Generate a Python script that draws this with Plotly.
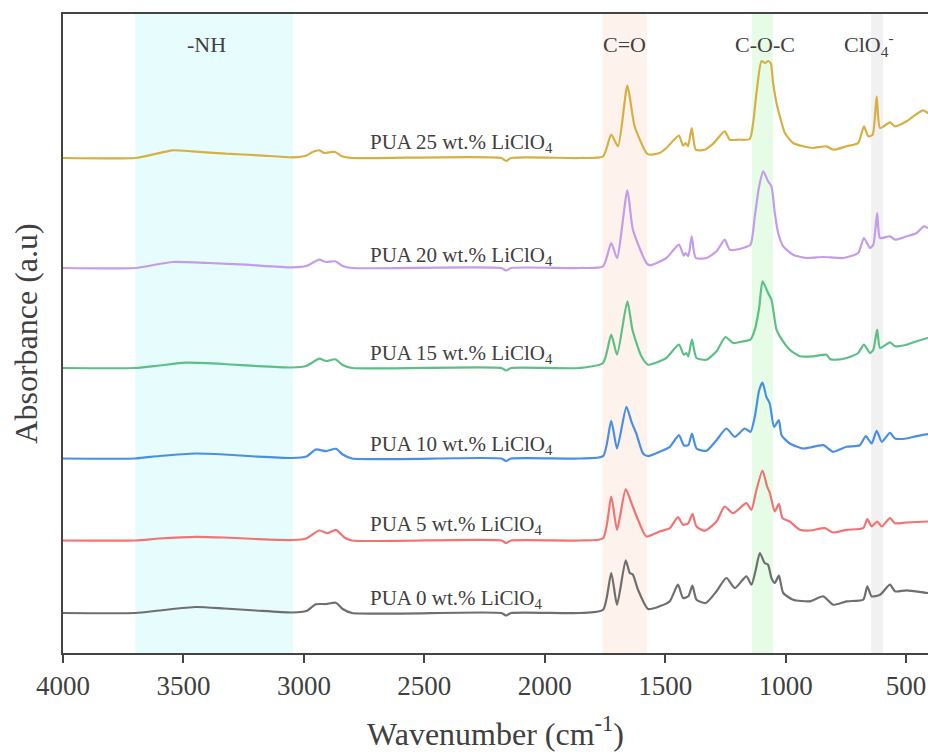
import plotly.graph_objects as go

# FTIR spectra of PUA films with increasing LiClO4 loading (stacked, arbitrary units)
labels = ["PUA 0 wt.% LiClO<sub>4</sub>", "PUA 5 wt.% LiClO<sub>4</sub>",
          "PUA 10 wt.% LiClO<sub>4</sub>", "PUA 15 wt.% LiClO<sub>4</sub>",
          "PUA 20 wt.% LiClO<sub>4</sub>", "PUA 25 wt.% LiClO<sub>4</sub>"]
colors = ["#6f6f6f", "#f07474", "#4a8fe3", "#5dbf86", "#c49ce9", "#d6b043"]
offsets = [0.40, 1.125, 1.945, 2.85, 3.85, 4.95]
label_y = [0.54, 1.28, 2.08, 2.99, 3.97, 5.10]

# wavenumbers (cm-1) and relative absorbance for each spectrum
wn_0 = [4000, 3700, 3600, 3448, 3330, 3200, 3050, 2990, 2950, 2908, 2867, 2839, 2800,
        2180, 2160, 2140, 1855, 1758, 1724, 1700, 1664, 1647, 1634, 1613, 1571, 1523,
        1481, 1447, 1426, 1404, 1387, 1370, 1332, 1287, 1246, 1211, 1163, 1142, 1124,
        1107, 1087, 1073, 1059, 1045, 1028, 1010, 969, 900, 844, 803, 747, 678, 661,
        643, 608, 567, 546, 498, 409, 400]
ab_0 = [0, 0, 0.025, 0.06, 0.045, 0.025, 0.005, 0.02, 0.087, 0.09, 0.103, 0.04, 0,
        0, -0.025, 0, 0, 0.033, 0.40, 0.083, 0.527, 0.40, 0.383, 0.233, 0.04, 0.067,
        0.117, 0.283, 0.15, 0.167, 0.273, 0.133, 0.10, 0.217, 0.35, 0.25, 0.367, 0.283, 0.433,
        0.60, 0.50, 0.483, 0.35, 0.30, 0.373, 0.20, 0.133, 0.117, 0.167, 0.083, 0.117, 0.133, 0.267,
        0.167, 0.183, 0.283, 0.217, 0.227, 0.20, 0.20]

wn_5 = [4000, 3700, 3600, 3448, 3330, 3200, 3050, 2990, 2936, 2901, 2867, 2832, 2800,
        2180, 2160, 2140, 1855, 1758, 1724, 1700, 1664, 1640, 1613, 1578, 1523, 1481,
        1447, 1426, 1404, 1387, 1370, 1336, 1287, 1253, 1218, 1163, 1142, 1121, 1096,
        1077, 1066, 1045, 1028, 1013, 983, 941, 900, 837, 803, 747, 678, 661, 643, 620,
        601, 567, 546, 498, 409, 400]
ab_5 = [0, 0, 0.02, 0.037, 0.03, 0.015, 0.005, 0.02, 0.10, 0.073, 0.107, 0.03, 0,
        0, -0.025, 0, 0, 0.023, 0.44, 0.107, 0.513, 0.373, 0.207, 0.04, 0.09, 0.123,
        0.233, 0.157, 0.173, 0.267, 0.14, 0.097, 0.19, 0.34, 0.273, 0.373, 0.307, 0.507, 0.70,
        0.54, 0.48, 0.29, 0.367, 0.223, 0.19, 0.107, 0.10, 0.123, 0.08, 0.107, 0.123, 0.213, 0.14, 0.19,
        0.14, 0.223, 0.173, 0.18, 0.19, 0.19]

wn_10 = [4000, 3700, 3600, 3448, 3330, 3200, 3050, 2990, 2950, 2908, 2867, 2839, 2800,
         2180, 2160, 2140, 1855, 1758, 1724, 1700, 1661, 1640, 1620, 1592, 1571, 1523,
         1481, 1443, 1423, 1404, 1389, 1370, 1329, 1287, 1246, 1211, 1170, 1146, 1128,
         1110, 1096, 1080, 1066, 1048, 1028, 1017, 983, 927, 900, 844, 803, 747, 692,
         667, 643, 622, 601, 567, 546, 498, 456, 409, 400]
ab_10 = [0, 0, 0.025, 0.05, 0.04, 0.02, 0.005, 0.02, 0.09, 0.073, 0.097, 0.04, 0,
         0, -0.025, 0, 0, 0.023, 0.377, 0.10, 0.517, 0.367, 0.25, 0.05, 0.023, 0.067,
         0.117, 0.233, 0.133, 0.133, 0.25, 0.10, 0.077, 0.183, 0.30, 0.217, 0.30, 0.267, 0.417,
         0.683, 0.76, 0.617, 0.55, 0.317, 0.383, 0.233, 0.15, 0.10, 0.11, 0.133, 0.067, 0.117, 0.133,
         0.223, 0.15, 0.277, 0.167, 0.257, 0.20, 0.20, 0.223, 0.243, 0.243]

wn_15 = [4000, 3700, 3600, 3490, 3330, 3200, 3050, 2990, 2936, 2908, 2870, 2839, 2800,
         2180, 2160, 2140, 1855, 1758, 1724, 1700, 1657, 1636, 1599, 1571, 1523, 1495,
         1443, 1423, 1412, 1404, 1389, 1370, 1329, 1287, 1250, 1218, 1177, 1146, 1128,
         1110, 1096, 1073, 1059, 1038, 1024, 983, 941, 886, 830, 816, 788, 747, 699,
         675, 650, 636, 620, 608, 567, 546, 498, 456, 409, 400]
ab_15 = [0, 0, 0.025, 0.053, 0.04, 0.02, 0.005, 0.02, 0.093, 0.07, 0.087, 0.03, 0,
         0, -0.025, 0, 0, 0.05, 0.333, 0.133, 0.667, 0.383, 0.117, 0.033, 0.067, 0.10,
         0.233, 0.133, 0.15, 0.117, 0.283, 0.10, 0.083, 0.167, 0.31, 0.25, 0.267, 0.283, 0.383,
         0.60, 0.867, 0.75, 0.683, 0.383, 0.317, 0.183, 0.117, 0.117, 0.133, 0.09, 0.083, 0.10, 0.15,
         0.233, 0.15, 0.183, 0.383, 0.20, 0.257, 0.217, 0.233, 0.267, 0.30, 0.30]

wn_20 = [4000, 3700, 3600, 3546, 3393, 3241, 3050, 2990, 2936, 2908, 2870, 2839, 2800,
         2180, 2160, 2140, 1855, 1758, 1724, 1700, 1657, 1634, 1578, 1564, 1495, 1443,
         1423, 1415, 1404, 1390, 1373, 1329, 1287, 1253, 1232, 1177, 1146, 1128, 1110,
         1093, 1073, 1059, 1045, 1031, 1010, 969, 913, 844, 761, 699, 675, 650, 636,
         620, 608, 567, 546, 498, 456, 426, 409, 400]
ab_20 = [0, 0, 0.04, 0.06, 0.05, 0.033, 0.007, 0.02, 0.083, 0.06, 0.067, 0.02, 0,
         0, -0.025, 0, 0, 0.017, 0.25, 0.10, 0.777, 0.383, 0.05, 0.027, 0.10, 0.233,
         0.123, 0.15, 0.117, 0.317, 0.10, 0.10, 0.167, 0.283, 0.183, 0.20, 0.233, 0.517, 0.817,
         0.967, 0.867, 0.817, 0.55, 0.35, 0.217, 0.133, 0.10, 0.11, 0.10, 0.15, 0.30, 0.20, 0.233,
         0.55, 0.30, 0.317, 0.283, 0.317, 0.35, 0.417, 0.40, 0.40]

wn_25 = [4000, 3698, 3629, 3546, 3463, 3324, 3185, 3047, 2991, 2964, 2936, 2915, 2894,
         2870, 2842, 2798, 2180, 2160, 2140, 1855, 1758, 1724, 1696, 1657, 1627, 1578,
         1564, 1523, 1495, 1443, 1426, 1415, 1405, 1390, 1373, 1336, 1301, 1253, 1232,
         1197, 1149, 1135, 1121, 1100, 1085, 1073, 1062, 1052, 1038, 1024, 1003, 969,
         927, 886, 830, 803, 747, 699, 675, 657, 639, 622, 608, 567, 546, 498, 470,
         429, 409, 400]
ab_25 = [0, 0, 0.033, 0.077, 0.067, 0.043, 0.027, 0.007, 0.023, 0.06, 0.077, 0.05, 0.057,
         0.06, 0.017, 0, 0, -0.03, 0, 0, 0.017, 0.233, 0.117, 0.723, 0.317, 0.05,
         0.033, 0.05, 0.10, 0.223, 0.123, 0.15, 0.117, 0.30, 0.083, 0.083, 0.143, 0.267, 0.183,
         0.183, 0.19, 0.35, 0.65, 0.97, 0.95, 0.97, 0.95, 0.75, 0.55, 0.417, 0.25, 0.15,
         0.117, 0.10, 0.117, 0.083, 0.117, 0.15, 0.317, 0.217, 0.233, 0.617, 0.30, 0.357, 0.317, 0.367, 0.417,
         0.477, 0.45, 0.45]

wavenumbers = [wn_0, wn_5, wn_10, wn_15, wn_20, wn_25]
absorbances = [ab_0, ab_5, ab_10, ab_15, ab_20, ab_25]

# highlighted vibration regions
band_names = ["-NH", "C=O", "C-O-C", "ClO<sub>4</sub><sup>-</sup>"]
band_hi = [3700, 1760, 1140, 645]
band_lo = [3045, 1575, 1052, 596]
band_fill = ["#e7fcfc", "#fdf2ec", "#e6fce6", "#f1f1f1"]
band_label_x = [3405, 1670, 1084, 655]

FONT = "Liberation Serif"
TXT = "#404040"

fig = go.Figure()

for lo, hi, fc in zip(band_lo, band_hi, band_fill):
    fig.add_shape(type="rect", xref="x", yref="paper", x0=hi, x1=lo, y0=0, y1=1,
                  fillcolor=fc, line_width=0, layer="below")

for wn, ab, off, col in zip(wavenumbers, absorbances, offsets, colors):
    fig.add_trace(go.Scatter(x=wn, y=[a + off for a in ab], mode="lines",
                             line=dict(color=col, width=2.2, shape="spline", smoothing=0.6),
                             showlegend=False, hoverinfo="skip"))

for lab, ly in zip(labels, label_y):
    fig.add_annotation(x=2732, y=ly, text=lab, showarrow=False, xanchor="left",
                       yanchor="middle", font=dict(family=FONT, size=21, color=TXT))

for name, bx in zip(band_names, band_label_x):
    fig.add_annotation(x=bx, y=6.09, text=name, showarrow=False, xanchor="center",
                       yanchor="middle", font=dict(family=FONT, size=22, color=TXT))

fig.update_layout(
    width=928, height=756,
    margin=dict(l=63, r=0, t=14, b=103),
    plot_bgcolor="white", paper_bgcolor="white",
    font=dict(family=FONT, color=TXT),
    xaxis=dict(range=[4000, 409], tickvals=[4000, 3500, 3000, 2500, 2000, 1500, 1000, 500],
               ticks="outside", ticklen=8, tickwidth=2, tickcolor="#444",
               showline=True, linecolor="#444", linewidth=2, mirror=True,
               showgrid=False, zeroline=False,
               tickfont=dict(family=FONT, size=27, color=TXT),
               title=dict(text="Wavenumber (cm<sup>-1</sup>)", standoff=22,
                          font=dict(family=FONT, size=32, color=TXT))),
    yaxis=dict(range=[0, 6.39], showticklabels=False, ticks="",
               showline=True, linecolor="#444", linewidth=2,
               showgrid=False, zeroline=False,
               title=dict(text="Absorbance (a.u)", standoff=14,
                          font=dict(family=FONT, size=32, color=TXT))),
)

fig.write_html("out.html")
